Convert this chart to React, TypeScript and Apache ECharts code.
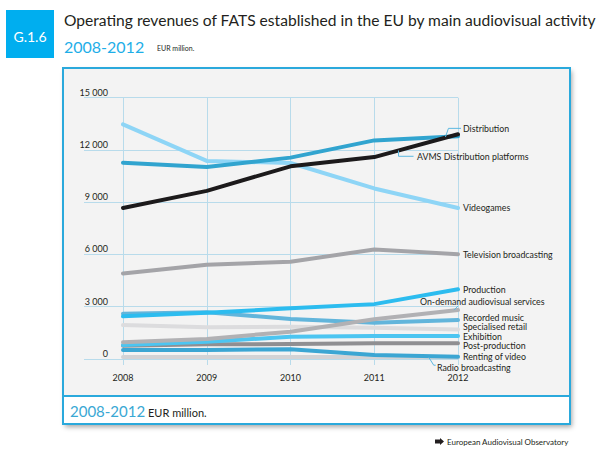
import React, { useEffect, useRef } from "react";
import * as echarts from "echarts";

const years = ["2008", "2009", "2010", "2011", "2012"];
const yTicks = { min: 0, max: 15000, interval: 3000 };

const radioBroadcasting = [110, 110, 110, 110, 100];
const rentingOfVideo = [520, 520, 560, 230, 130];
const postProduction = [760, 840, 860, 900, 900];
const exhibition = [800, 990, 1280, 1320, 1320];
const specialisedRetail = [1950, 1820, 1850, 1800, 1700];
const recordedMusic = [2600, 2690, 2290, 2080, 2240];
const onDemand = [960, 1150, 1570, 2280, 2810];
const production = [2450, 2650, 2910, 3150, 4000];
const tvBroadcasting = [4910, 5410, 5580, 6290, 6020];
const videogames = [13470, 11370, 11250, 9790, 8670];
const distribution = [11270, 11020, 11560, 12550, 12780];
const avmsPlatforms = [8670, 9650, 11060, 11590, 12900];

const seriesDefs = [
  { name: "Radio broadcasting", data: radioBroadcasting, color: "#d3d3d5", offset: [-26, 10.6] },
  { name: "Renting of video", data: rentingOfVideo, color: "#3ba6d3", offset: [0, 0.2] },
  { name: "Post-production", data: postProduction, color: "#8f8f92", offset: [0, 2.6] },
  { name: "Exhibition", data: exhibition, color: "#4cc5f1", offset: [0, 0.4] },
  { name: "Specialised retail", data: specialisedRetail, color: "#dcdcde", offset: [0, -2.5] },
  { name: "Recorded music", data: recordedMusic, color: "#62b5db", offset: [0, -2.6] },
  { name: "On-demand audiovisual services", data: onDemand, color: "#b1b1b4", offset: [-43, -8.5] },
  { name: "Production", data: production, color: "#2cbcef", offset: [0, 0] },
  { name: "Television broadcasting", data: tvBroadcasting, color: "#a4a4a8", offset: [0, 0] },
  { name: "Videogames", data: videogames, color: "#8ed5f6", offset: [0, 0] },
  { name: "Distribution", data: distribution, color: "#31a4cf", offset: [0, -8] },
  { name: "AVMS Distribution platforms", data: avmsPlatforms, color: "#1c1a1b", offset: [-46, 22] },
];

const FONT = "Lato";
const CYAN = "#2aa9dc";
const GRID_COLOR = "#b8dbeb";

function fmt(v: number) {
  return v === 0 ? "0" : String(v).replace(/\B(?=(\d{3})+(?!\d))/g, " ");
}

export default function App() {
  const ref = useRef<HTMLDivElement>(null);
  useEffect(() => {
    document.body.style.margin = "0";
    const chart = echarts.init(ref.current!, undefined, { renderer: "svg" });
    const gridPos = { top: 97.7, bottom: 92, right: 152 };
    const option: any = {
      animation: false,
      textStyle: { fontFamily: FONT },
      grid: [
        { ...gridPos, left: 84 },
        { ...gridPos, left: 123 },
      ],
      xAxis: [
        { gridIndex: 0, type: "value", min: 0, max: 1, show: false },
        {
          gridIndex: 1,
          type: "category",
          data: years,
          boundaryGap: false,
          axisLine: { show: false },
          axisTick: { show: true, length: 6, lineStyle: { color: GRID_COLOR, width: 1 } },
          splitLine: { show: true, lineStyle: { color: GRID_COLOR, width: 1 } },
          axisLabel: { color: "#231f20", fontSize: 9, fontFamily: FONT, margin: 14 },
        },
      ],
      yAxis: [
        {
          gridIndex: 0,
          type: "value",
          ...yTicks,
          axisLabel: { show: false },
          axisLine: { show: false },
          axisTick: { show: false },
          splitLine: { show: true, lineStyle: { color: GRID_COLOR, width: 1 } },
        },
        {
          gridIndex: 1,
          type: "value",
          ...yTicks,
          axisLine: { show: false },
          axisTick: { show: false },
          splitLine: { show: false },
          axisLabel: {
            formatter: (v: number) => fmt(v),
            color: "#231f20",
            fontSize: 9,
            fontFamily: FONT,
            margin: 15,
            verticalAlign: "bottom",
            lineHeight: 11,
          },
        },
      ],
      series: seriesDefs.map((s) => ({
        type: "line",
        name: s.name,
        xAxisIndex: 1,
        yAxisIndex: 1,
        data: s.data,
        symbol: "none",
        smooth: false,
        lineStyle: { color: s.color, width: 4, cap: "round", join: "round" },
        itemStyle: { color: s.color },
        endLabel: {
          show: true,
          formatter: s.name,
          color: "#231f20",
          fontSize: 8.8,
          lineHeight: 8,
          fontFamily: FONT,
          distance: 5,
          offset: s.offset,
        },
        emphasis: { disabled: true },
      })),
      graphic: [
        {
          type: "rect",
          z: -10,
          shape: { x: 63, y: 68, width: 507, height: 356 },
          style: {
            fill: "#f3f3f3",
            shadowBlur: 5,
            shadowColor: "rgba(0,0,0,0.35)",
            shadowOffsetX: 2,
            shadowOffsetY: 3,
          },
        },
        {
          type: "rect",
          z: -9,
          shape: { x: 63, y: 396, width: 507, height: 28 },
          style: { fill: "#ffffff" },
        },
        {
          type: "line",
          z: -8,
          shape: { x1: 63, y1: 396, x2: 570, y2: 396 },
          style: { stroke: CYAN, lineWidth: 2 },
        },
        {
          type: "rect",
          z: 50,
          shape: { x: 63, y: 68, width: 507, height: 356 },
          style: { fill: "none", stroke: CYAN, lineWidth: 2 },
        },
        {
          type: "text",
          x: 70,
          y: 411,
          style: { text: "2008-2012", fill: "#3aa8d4", font: `15px ${FONT}`, verticalAlign: "middle" },
        },
        {
          type: "text",
          x: 148,
          y: 412,
          style: { text: "EUR million.", fill: "#231f20", font: `11px ${FONT}`, verticalAlign: "middle" },
        },
        {
          type: "rect",
          shape: { x: 6, y: 10, width: 48, height: 48 },
          style: { fill: "#00aeef" },
        },
        {
          type: "text",
          x: 30,
          y: 36,
          style: { text: "G.1.6", fill: "#ffffff", font: `14px ${FONT}`, align: "center", verticalAlign: "middle" },
        },
        {
          type: "text",
          x: 64,
          y: 19.5,
          style: {
            text: "Operating revenues of FATS established in the EU by main audiovisual activity",
            fill: "#231f20",
            font: `15.6px ${FONT}`,
            verticalAlign: "middle",
          },
        },
        {
          type: "text",
          x: 64,
          y: 46.5,
          style: { text: "2008-2012", fill: "#1eaee8", font: `16px ${FONT}`, verticalAlign: "middle" },
        },
        {
          type: "text",
          x: 157,
          y: 48,
          style: { text: "EUR million.", fill: "#231f20", font: `7px ${FONT}`, verticalAlign: "middle" },
        },
        {
          type: "polygon",
          shape: { points: [[435, 439.5], [440, 439.5], [440, 438], [444, 441.5], [440, 445], [440, 443.5], [435, 443.5]] },
          style: { fill: "#231f20" },
        },
        {
          type: "text",
          x: 447,
          y: 441.5,
          style: { text: "European Audiovisual Observatory", fill: "#231f20", font: `8px ${FONT}`, verticalAlign: "middle" },
        },
      ],
    };
    chart.setOption(option);

    // leader lines derived from the plotted data positions
    const px = (i: number, v: number) =>
      chart.convertToPixel({ xAxisIndex: 1, yAxisIndex: 1 } as any, [i, v]) as number[];
    const lerp = (a: number[], b: number[], t: number) => [a[0] + (b[0] - a[0]) * t, a[1] + (b[1] - a[1]) * t];
    const leader = (pts: number[][]) => ({
      type: "polyline",
      z: 40,
      shape: { points: pts },
      style: { stroke: "#5cb8e0", lineWidth: 1, fill: "none" },
    });
    const dEnd = px(4, distribution[4]);
    const dPt = lerp(px(3, distribution[3]), dEnd, 0.85);
    const aPt = lerp(px(3, avmsPlatforms[3]), px(4, avmsPlatforms[4]), 0.29);
    const aLabelY = px(4, avmsPlatforms[4])[1] + 22;
    const oEnd = px(4, onDemand[4]);
    const rPt = lerp(px(3, radioBroadcasting[3]), px(4, radioBroadcasting[4]), 0.65);
    const leaders = [
      leader([dPt, [dPt[0] + 3, dEnd[1] - 8], [dEnd[0] + 3, dEnd[1] - 8]]),
      leader([aPt, [aPt[0], aLabelY], [aPt[0] + 15, aLabelY]]),
      leader([[oEnd[0] - 4, oEnd[1]], [oEnd[0], oEnd[1] - 4]]),
      leader([rPt, [rPt[0] + 5, rPt[1] + 8], [rPt[0] + 7, rPt[1] + 8]]),
    ];
    chart.setOption({ graphic: [...option.graphic, ...leaders] });

    return () => chart.dispose();
  }, []);
  return <div ref={ref} style={{ width: 610, height: 451 }} />;
}
